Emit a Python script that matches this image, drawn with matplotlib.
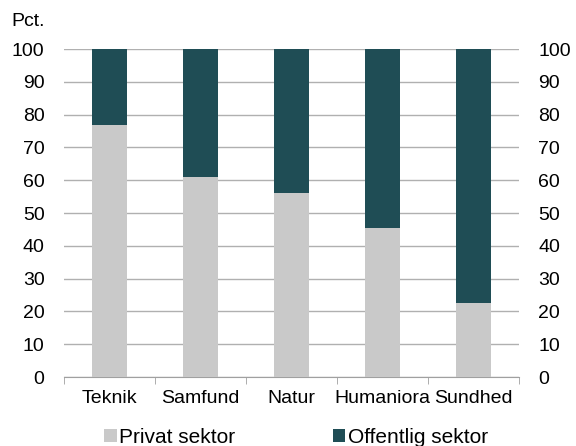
import numpy as np
from matplotlib import pyplot as plt

plt.rcParams['font.family'] = 'Liberation Sans'

categories = ['Teknik', 'Samfund', 'Natur', 'Humaniora', 'Sundhed']
privat = [76.7, 61.1, 56.1, 45.3, 22.6]
offentlig = [100 - v for v in privat]

grey = '#c9c9c9'
teal = '#1f4d55'

fig = plt.figure(figsize=(5.76, 4.46), dpi=100)
ax = fig.add_axes([0.111, 0.1547, 0.79, 0.7353])

x = np.arange(len(categories))
ax.bar(x, privat, width=0.39, color=grey, label='Privat sektor', zorder=3)
ax.bar(x, offentlig, width=0.39, bottom=privat, color=teal, label='Offentlig sektor', zorder=3)

ax.set_xlim(-0.5, len(categories) - 0.5)
ax.set_ylim(0, 100)
ax.set_yticks(range(0, 101, 10))
ax.yaxis.grid(True, color='#b0b0b0', linewidth=1, zorder=0)

for s in ['left', 'right', 'top']:
    ax.spines[s].set_visible(False)
ax.spines['bottom'].set_color('#a0a0a0')

ax.set_xticks(x)
ax.set_xticklabels(categories, fontsize=14)
ax.set_xticks(np.arange(-0.5, len(categories), 1), minor=True)
ax.tick_params(axis='x', which='major', length=0, pad=9)
ax.tick_params(axis='x', which='minor', length=5, color='#a0a0a0', direction='out')
ax.tick_params(axis='y', length=0, labelsize=14, pad=14, labelright=True)

fig.text(0.019, 0.952, 'Pct.', fontsize=14, va='center', ha='left')

ax.legend(loc='center', bbox_to_anchor=(0.51, -0.184), ncol=2, frameon=False,
          fontsize=15, handlelength=0.6, handleheight=0.6, handletextpad=0.1,
          columnspacing=4.7, borderpad=0)

fig.savefig('out.png', dpi=100)
